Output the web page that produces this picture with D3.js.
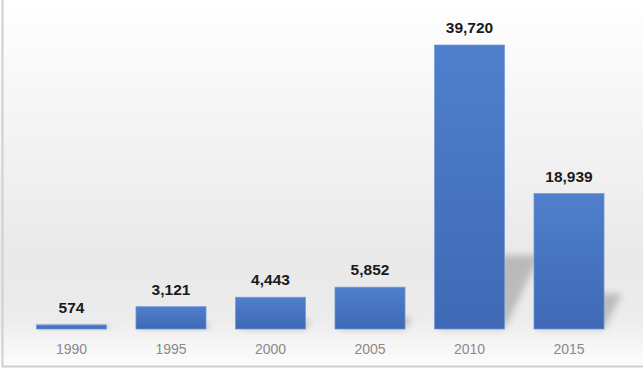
<!DOCTYPE html>
<html>
<head>
<meta charset="utf-8">
<script src="https://cdn.jsdelivr.net/npm/d3@7"></script>
<style>
  html, body { margin: 0; padding: 0; background: #fff; }
  svg { display: block; }
</style>
</head>
<body>
<svg id="chart" width="643" height="371"></svg>
<script>
const categories = ["1990", "1995", "2000", "2005", "2010", "2015"];
const values = [574, 3121, 4443, 5852, 39720, 18939];

const W = 643, H = 371;
const svg = d3.select("#chart");
const defs = svg.append("defs");

const bg = defs.append("linearGradient").attr("id", "bg").attr("x1", 0).attr("y1", 0).attr("x2", 0).attr("y2", 1);
[[0, "#ffffff"], [0.12, "#fbfbfb"], [0.7, "#e9e9e9"], [0.86, "#ececec"], [0.98, "#fcfcfc"], [1, "#ffffff"]]
  .forEach(([o, c]) => bg.append("stop").attr("offset", o).attr("stop-color", c));

const barGrad = defs.append("linearGradient").attr("id", "barGrad").attr("x1", 0).attr("y1", 0).attr("x2", 0).attr("y2", 1);
barGrad.append("stop").attr("offset", 0).attr("stop-color", "#4f7fcc");
barGrad.append("stop").attr("offset", 1).attr("stop-color", "#3f69b5");

const blur = defs.append("filter").attr("id", "blur").attr("x", "-50%").attr("y", "-50%").attr("width", "200%").attr("height", "200%");
blur.append("feGaussianBlur").attr("stdDeviation", 3.5);

svg.append("rect").attr("x", 0).attr("y", 0).attr("width", W).attr("height", H).attr("fill", "url(#bg)");
// frame lines
svg.append("line").attr("x1", 2.5).attr("x2", 2.5).attr("y1", 0).attr("y2", 367).attr("stroke", "#cfcfcf").attr("stroke-width", 2);
svg.append("line").attr("x1", 2).attr("x2", W).attr("y1", 366.5).attr("y2", 366.5).attr("stroke", "#cfcfcf").attr("stroke-width", 2);

const baseY = 329;
const x = d3.scaleBand().domain(categories).range([21.75, 618.75]).paddingInner(0.296).paddingOuter(0.148);
const y = d3.scaleLinear().domain([0, 45000]).range([baseY, baseY - 284 * 45000 / 39720]);

const data = categories.map((c, i) => ({ c, v: values[i] }));

// shadows
svg.append("g").selectAll("path").data(data).join("path")
  .attr("d", d => {
    const x0 = x(d.c), x1 = x0 + x.bandwidth();
    const h = baseY - y(d.v);
    const sh = Math.max(0.26 * h, 4);
    const k = 0.45;
    return `M${x0 + 4},${baseY} L${x1},${baseY} L${x1 + k * sh + 2},${baseY - sh} L${x0 + k * sh},${baseY - sh} Z`;
  })
  .attr("fill", "#000").attr("opacity", 0.2).attr("filter", "url(#blur)");

// bars
svg.append("g").selectAll("rect").data(data).join("rect")
  .attr("x", d => x(d.c)).attr("y", d => y(d.v))
  .attr("width", x.bandwidth()).attr("height", d => baseY - y(d.v))
  .attr("fill", "url(#barGrad)")
  .attr("stroke", "#7199d8").attr("stroke-width", 0.7);

// value labels
svg.append("g").selectAll("text").data(data).join("text")
  .attr("x", d => x(d.c) + x.bandwidth() / 2)
  .attr("y", d => y(d.v) - 12)
  .attr("text-anchor", "middle")
  .attr("font-family", "Liberation Sans, Arial, sans-serif")
  .attr("font-weight", "bold")
  .attr("font-size", "15.5px")
  .attr("fill", "#1a1a1a")
  .text(d => d3.format(",")(d.v));

// x axis
const xAxis = svg.append("g").attr("transform", `translate(0,${baseY})`)
  .call(d3.axisBottom(x).tickSize(0).tickPadding(0));
xAxis.select(".domain").remove();
xAxis.selectAll("text")
  .attr("y", 25).attr("dy", 0)
  .attr("font-family", "Liberation Sans, Arial, sans-serif")
  .attr("font-size", "14px")
  .attr("fill", "#8a8a8a");
</script>
</body>
</html>
